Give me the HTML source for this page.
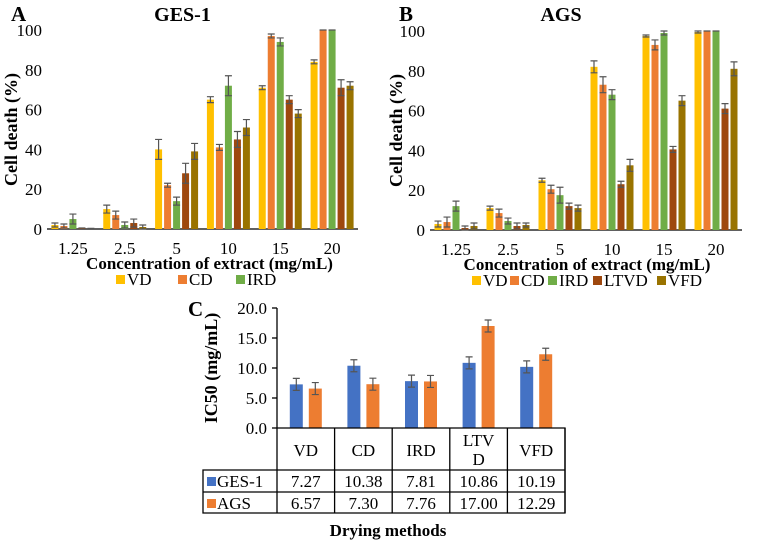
<!DOCTYPE html>
<html><head><meta charset="utf-8"><style>
body{margin:0;background:#fff;}
svg{display:block;font-family:"Liberation Serif","DejaVu Serif",serif;}
svg text{font-family:"Liberation Serif","DejaVu Serif",serif;}
</style></head><body>
<svg id="s" width="757" height="546" viewBox="0 0 757 546"></svg>
<script>
const cats=["1.25","2.5","5","10","15","20"];
const series=["VD","CD","IRD","LTVD","VFD"];
const colors=["#FFC000","#ED7D31","#70AD47","#9E480E","#997300"];
const gesVals=[[2,10,40,65,71,84],[1.5,7,22,41,97,100],[5,2,14,72,94,100],[0.5,3,28,45,65,71],[0.3,1,39,51,58,72]];
const gesErr=[[1,2,5,1.5,1,1],[1,2,1,1.5,1,0],[2.5,1.5,2,5,2,0],[0,2,5,4,2,4],[0,1,4,4,2,2]];
const agsVals=[[3,11,25,82,97.5,99.5],[4,8.5,20.5,73,93,100],[12,4.5,17.5,68,99,100],[1,2,12,23,40.5,61],[2,2.5,11,32.5,65,81]];
const agsErr=[[1.5,1,1,3,0.5,0.5],[2.5,2,2,4,2.5,0],[2.5,1.5,4,2.5,1,0],[1,1.5,1.5,1.5,1.5,2.5],[1.5,1,1.5,3,2.5,3.5]];
const yTicks=[0,20,40,60,80,100];
const methods=["VD","CD","IRD","LTVD","VFD"];
const icGes=[7.27,10.38,7.81,10.86,10.19];
const icAgs=[6.57,7.30,7.76,17.00,12.29];
const icErr=[1.0,1.0,1.0,1.0,1.0];
const icTicks=[0,5,10,15,20];

const S=document.getElementById('s');
const NS="http://www.w3.org/2000/svg";
const FF='"Liberation Serif","DejaVu Serif",serif';
function el(t,a,p){const e=document.createElementNS(NS,t);for(const k in a)e.setAttribute(k,a[k]);(p||S).appendChild(e);return e;}
function txt(x,y,s,a,p){const e=el('text',Object.assign({x:x,y:y,'font-family':FF},a),p);e.textContent=s;return e;}

function panel(o){
  const g=el('g',{});
  
  
  const {x0,x1,y0,y1}=o;
  const ys=v=>y0-(v/100)*(y0-y1);
  const cw=(x1-x0)/cats.length;
  yTicks.forEach(t=>{
    const lb=txt(x0-5,ys(t)+6,String(t),{'text-anchor':'end','font-size':'17'},g);
    
    
  });
  el('line',{x1:x0,y1:y0,x2:x1,y2:y0,stroke:'#000','stroke-width':1.3},g);
  cats.forEach((c,i)=>{
    const cx=x0+cw*(i+0.5);
    const lb=txt(cx,y0+25,c,{'text-anchor':'middle','font-size':'17'},g);
    
    
    o.vals.forEach((sv,j)=>{
      const bw=7,step=9;
      const bx=cx+(j-2)*step-bw/2;
      const v=sv[i];
      const r=el('rect',{x:bx,y:ys(v),width:bw,height:Math.max(0,y0-ys(v)),fill:colors[j]},g);
      
      
      const e=o.err[j][i];
      const mx=bx+bw/2, ya=ys(Math.min(v+e,100)), yb=ys(Math.max(v-e,0));
      const eb=el('path',{d:`M${mx},${ya}V${yb}M${mx-3.5},${ya}H${mx+3.5}M${mx-3.5},${yb}H${mx+3.5}`,stroke:'#555','stroke-width':1.2,fill:'none'},g);
      
      
    });
  });
  const t=txt((x0+x1)/2+(o.tdx||0),21,o.title,{'text-anchor':'middle','font-size':'20','font-weight':'bold'},g);
  
  const L=txt(o.lx,21,o.letter,{'font-size':'21','font-weight':'bold'},g);
  
  const yt=txt(0,0,o.ytitle,{'text-anchor':'middle','font-size':'18','font-weight':'bold',transform:`translate(${o.ytx},${(y0+y1)/2}) rotate(-90)`,'xml:space':'preserve'},g);
  
  const xt=txt((x0+x1)/2+o.xtdx,y0+40,"Concentration of extract (mg/mL)",{'text-anchor':'middle','font-size':'17','font-weight':'bold'},g);
  
  let lx=o.legx;
  o.legN.forEach(j=>{
    const lg=el('g',{},g);
    
    
    el('rect',{x:lx,y:y0+46,width:9,height:9,fill:colors[j]},lg);
    txt(lx+11,y0+56,series[j],{'font-size':'17'},lg);
    lx+=o.legW[j];
  });
}
panel({name:'panel-a-ges1',x0:47,x1:358,y0:229,y1:30,vals:gesVals,err:gesErr,title:'GES-1',letter:'A',lx:11,ytitle:'Cell  death (%)',ytx:17,xtdx:7,legx:116,legN:[0,1,2],legW:[62,58,58,0,0],tdx:-20});
panel({name:'panel-b-ags',x0:430,x1:742,y0:230,y1:31,vals:agsVals,err:agsErr,title:'AGS',letter:'B',lx:399,ytitle:'Cell death (%)',ytx:402,xtdx:1,legx:472,legN:[0,1,2,3,4],legW:[38,38,45,64,50],tdx:-25});

(function(){
  const g=el('g',{});
  
  
  const ax=277,y0=428,y1=308,colW=57.6;
  const ys=v=>y0-(v/20)*(y0-y1);
  el('line',{x1:ax,y1:y1,x2:ax,y2:y0,stroke:'#000','stroke-width':1.3},g);
  icTicks.forEach(t=>{
    el('line',{x1:ax-5,y1:ys(t),x2:ax,y2:ys(t),stroke:'#000','stroke-width':1.3},g);
    const lb=txt(ax-10,ys(t)+6,t.toFixed(1),{'text-anchor':'end','font-size':'17'},g);
    
  });
  const data=[icGes,icAgs], cols=["#4472C4","#ED7D31"], nm=["ges1","ags"];
  methods.forEach((m,i)=>{
    const cx=ax+colW*(i+0.5);
    data.forEach((d,j)=>{
      const bw=13, bx=cx+(j===0?-16:3);
      const r=el('rect',{x:bx,y:ys(d[i]),width:bw,height:y0-ys(d[i]),fill:cols[j]},g);
      
      
      const mx=bx+bw/2,ya=ys(d[i]+icErr[i]),yb=ys(d[i]-icErr[i]);
      const eb=el('path',{d:`M${mx},${ya}V${yb}M${mx-3.5},${ya}H${mx+3.5}M${mx-3.5},${yb}H${mx+3.5}`,stroke:'#555','stroke-width':1.2,fill:'none'},g);
      
    });
  });
  const tl=203, tr=ax+colW*5, r0=428, r1=470, r2=492, r3=513;
  const st={stroke:'#000','stroke-width':1.3,fill:'none'};
  el('path',Object.assign({d:`M${ax},${r0}H${tr}V${r3}H${tl}V${r1}H${tr}M${tl},${r2}H${tr}`},st),g);
  for(let i=0;i<=5;i++){const x=ax+colW*i;el('line',Object.assign({x1:x,y1:r0,x2:x,y2:r3},st),g);}
  methods.forEach((m,i)=>{
    const cx=ax+colW*(i+0.5);
    if(m==="LTVD"){
      const a=txt(cx,r0+18,"LTV",{'text-anchor':'middle','font-size':'17'},g);
      const b=txt(cx,r0+37,"D",{'text-anchor':'middle','font-size':'17'},g);
    } else {
      const a=txt(cx,r0+28,m,{'text-anchor':'middle','font-size':'17'},g);
    }
    const v1=txt(cx,r1+17,icGes[i].toFixed(2),{'text-anchor':'middle','font-size':'17'},g);
    const v2=txt(cx,r2+17,icAgs[i].toFixed(2),{'text-anchor':'middle','font-size':'17'},g);
  });
  [["GES-1",r1,0],["AGS",r2,1]].forEach(([n,r,j])=>{
    el('rect',{x:tl+4,y:r+7,width:9,height:9,fill:cols[j]},g);
    const t=txt(tl+14,r+17,n,{'font-size':'17'},g);
  });
  const yt=txt(0,0,"IC50 (mg/mL)",{'text-anchor':'middle','font-size':'18','font-weight':'bold',transform:`translate(217,${(y0+y1)/2}) rotate(-90)`},g);
  
  const L=txt(188,316,"C",{'font-size':'21','font-weight':'bold'},g);
  const xt=txt(388,536,"Drying methods",{'text-anchor':'middle','font-size':'17','font-weight':'bold'},g);
  
})();
</script>
</body></html>
